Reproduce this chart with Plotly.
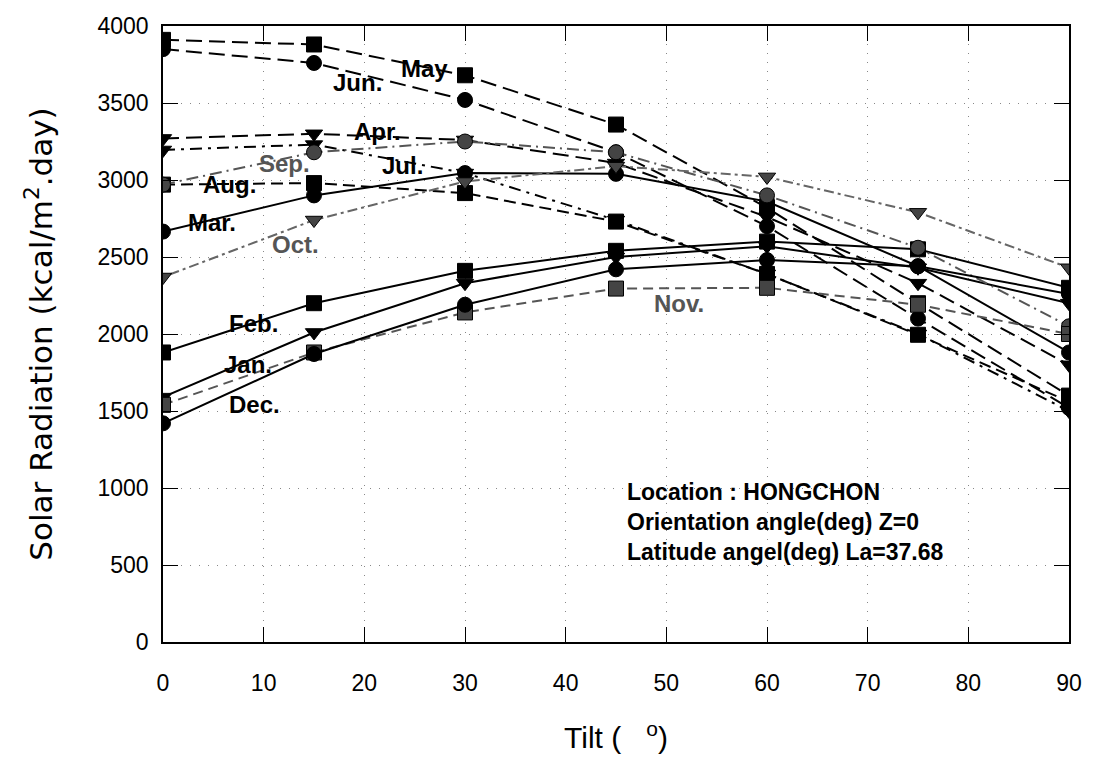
import plotly.graph_objects as go

tilt = [0, 15, 30, 45, 60, 75, 90]
months = ["Jan.", "Feb.", "Mar.", "Apr.", "May", "Jun.", "Jul.", "Aug.", "Sep.", "Oct.", "Nov.", "Dec."]
jan = [1590, 2010, 2330, 2500, 2570, 2430, 2200]
feb = [1880, 2200, 2410, 2540, 2600, 2550, 2300]
mar = [2665, 2900, 3045, 3040, 2860, 2440, 1880]
apr = [3270, 3300, 3260, 3110, 2760, 2330, 1800]
may = [3910, 3880, 3680, 3360, 2820, 2200, 1600]
jun = [3850, 3760, 3520, 3180, 2700, 2100, 1520]
jul = [3195, 3230, 3045, 2740, 2390, 2000, 1500]
aug = [2970, 2980, 2915, 2730, 2390, 1995, 1560]
sep = [2970, 3180, 3250, 3180, 2900, 2560, 2050]
octo = [2370, 2740, 2990, 3090, 3020, 2790, 2430]
nov = [1540, 1880, 2140, 2295, 2300, 2190, 2000]
dec = [1420, 1870, 2190, 2420, 2480, 2440, 2260]
series = [jan, feb, mar, apr, may, jun, jul, aug, sep, octo, nov, dec]

# label positions (tilt, value) for month names
label_x = [8.4, 9.0, 4.9, 21.3, 26.0, 19.3, 23.8, 6.65, 12.1, 13.2, 51.3, 9.1]
label_y = [1799, 2071, 2727, 3318, 3727, 3636, 3097, 2974, 3110, 2584, 2201, 1539]

styles = [
    dict(sym="triangle-down", col="black", mcol="black", dash="solid"),
    dict(sym="square", col="black", mcol="black", dash="solid"),
    dict(sym="circle", col="black", mcol="black", dash="solid"),
    dict(sym="triangle-down", col="black", mcol="black", dash="16px,7px"),
    dict(sym="square", col="black", mcol="black", dash="16px,7px"),
    dict(sym="circle", col="black", mcol="black", dash="16px,7px"),
    dict(sym="triangle-down", col="black", mcol="black", dash="12px,6px,3px,6px"),
    dict(sym="square", col="black", mcol="black", dash="12px,6px"),
    dict(sym="circle", col="#555", mcol="#444", dash="12px,5px,2px,5px"),
    dict(sym="triangle-down", col="#666", mcol="#444", dash="3px,4px,10px,4px"),
    dict(sym="square", col="#555", mcol="#444", dash="10px,6px"),
    dict(sym="circle", col="black", mcol="black", dash="solid"),
]

fig = go.Figure()
for name, ys, st in zip(months, series, styles):
    fig.add_trace(go.Scatter(
        x=tilt, y=ys, mode="lines+markers", name=name,
        line=dict(color=st["col"], width=2, dash=st["dash"]),
        marker=dict(symbol=st["sym"], size=15, color=st["mcol"],
                    line=dict(color="black", width=1)),
        showlegend=False,
    ))

lab_font = "Liberation Sans, Arial"
for name, lx, ly, st in zip(months, label_x, label_y, styles):
    fig.add_annotation(x=lx, y=ly, text="<b>" + name + "</b>", showarrow=False,
                       font=dict(family=lab_font, size=24,
                                 color="#555" if st["col"] != "black" else "black"))

info = ["Location : HONGCHON", "Orientation angle(deg) Z=0", "Latitude angel(deg) La=37.68"]
info_y = [974, 779, 584]
for t, yy in zip(info, info_y):
    fig.add_annotation(x=45.9, y=yy, text="<b>" + t + "</b>", showarrow=False,
                       xanchor="left", font=dict(family=lab_font, size=23, color="black"))

axis_font = dict(family="Liberation Sans, Arial", size=23, color="black")
fig.update_xaxes(range=[0, 90], tickvals=list(range(0, 91, 10)), ticks="inside", ticklen=15,
                 tickcolor="black", showline=True, linecolor="black", linewidth=1.5, mirror="ticks",
                 showgrid=True, gridcolor="#888", griddash="1px,8px", gridwidth=1,
                 zeroline=False, tickfont=axis_font, ticklabelstandoff=20,
                 title=dict(text="Tilt (&nbsp;&nbsp;&nbsp;<sup>o</sup>)",
                            font=dict(family="Liberation Sans, Arial", size=30, color="black"), standoff=32))
fig.update_yaxes(range=[0, 4000], tickvals=list(range(0, 4001, 500)), ticks="inside", ticklen=15,
                 tickcolor="black", showline=True, linecolor="black", linewidth=1.5, mirror="ticks",
                 showgrid=True, gridcolor="#888", griddash="1px,8px", gridwidth=1,
                 zeroline=False, tickfont=axis_font, ticklabelstandoff=8,
                 title=dict(text="Solar Radiation (kcal/m<sup>2</sup>.day)",
                            font=dict(family="DejaVu Sans", size=31, color="black"), standoff=36))

fig.update_layout(width=1105, height=761, margin=dict(l=163, r=36, t=26, b=119),
                  plot_bgcolor="white", paper_bgcolor="white")
fig.write_html("out.html")
